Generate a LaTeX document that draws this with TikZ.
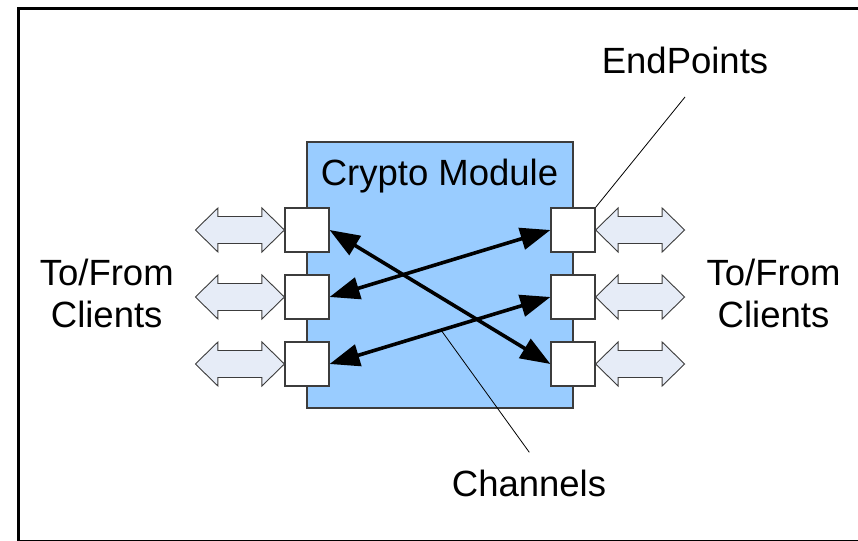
\documentclass[tikz,border=0pt]{standalone}
\usepackage{fontspec}
\setmainfont{Liberation Sans}
\usetikzlibrary{arrows.meta,calc}
\definecolor{modfill}{RGB}{153,204,255}
\definecolor{portfill}{RGB}{230,236,247}
\definecolor{edge}{RGB}{60,60,60}

\begin{document}
\begin{tikzpicture}[x=1pt,y=-1pt,
  lbl/.style={font=\fontsize{36.5}{43}\selectfont, inner sep=0pt, anchor=base},
  module/.style={draw=edge, line width=1.2pt, fill=modfill},
  endpt/.style={draw=edge, line width=1.2pt, fill=white, minimum size=44pt, inner sep=0pt},
  channel/.style={line width=3.6pt,
    {Triangle[length=30pt,width=22pt]}-{Triangle[length=30pt,width=22pt]}},
  callout/.style={line width=0.8pt},
  io/.style={draw=edge, line width=0.9pt, fill=portfill, line join=miter}]

  \clip (0,0) rectangle (858,540);

  % outer frame
  \draw[line width=3pt] (18.3,8.3) rectangle (861,541.9);

  % crypto module body
  \node[module, minimum width=266pt, minimum height=266pt, inner sep=0pt] (mod) at (440,275) {};
  \node[lbl] (title) at (439.5,185) {Crypto Module};

  % endpoints on the module edges
  \foreach \i/\y in {1/230, 2/297, 3/364} {
    \node[endpt] (L\i) at (307,\y) {};
    \node[endpt] (R\i) at (573,\y) {};
  }

  % two-way client connections
  \foreach \i in {1,2,3} {
    \draw[io] ($(L\i.west)+(-89,0)$) -- ++(22.5,-22) -- ++(0,8.5) -- ++(44,0)
      -- ++(0,-8.5) -- (L\i.west) -- ++(-22.5,22) -- ++(0,-8.5) -- ++(-44,0)
      -- ++(0,8.5) -- cycle;
    \draw[io] (R\i.east) -- ++(22.5,-22) -- ++(0,8.5) -- ++(44,0)
      -- ++(0,-8.5) -- ++(22.5,22) -- ++(-22.5,22) -- ++(0,-8.5) -- ++(-44,0)
      -- ++(0,8.5) -- cycle;
  }

  % channels between endpoints
  \draw[channel] (L1.east) -- (R3.west);
  \draw[channel] (L2.east) -- (R1.west);
  \draw[channel] (L3.east) -- (R2.west);

  % labels
  \node[lbl] (endpoints) at (685,73.3) {EndPoints};
  \node[lbl] (channels) at (529,496.7) {Channels};
  \node[lbl] (cl1) at (106.7,285.7) {To/From};
  \node[lbl] (cl2) at (106.7,327.5) {Clients};
  \node[lbl] (cr1) at (773.5,285.7) {To/From};
  \node[lbl] (cr2) at (773.5,327.5) {Clients};

  % callout lines
  \coordinate (epend) at (685,97);
  \coordinate (chpt) at ($(L3.east)!0.505!(R2.west)$);
  \coordinate (chend) at (529.3,452.3);
  \draw[callout] (R1.north east) -- (epend);
  \draw[callout] (chpt) -- (chend);
\end{tikzpicture}
\end{document}
